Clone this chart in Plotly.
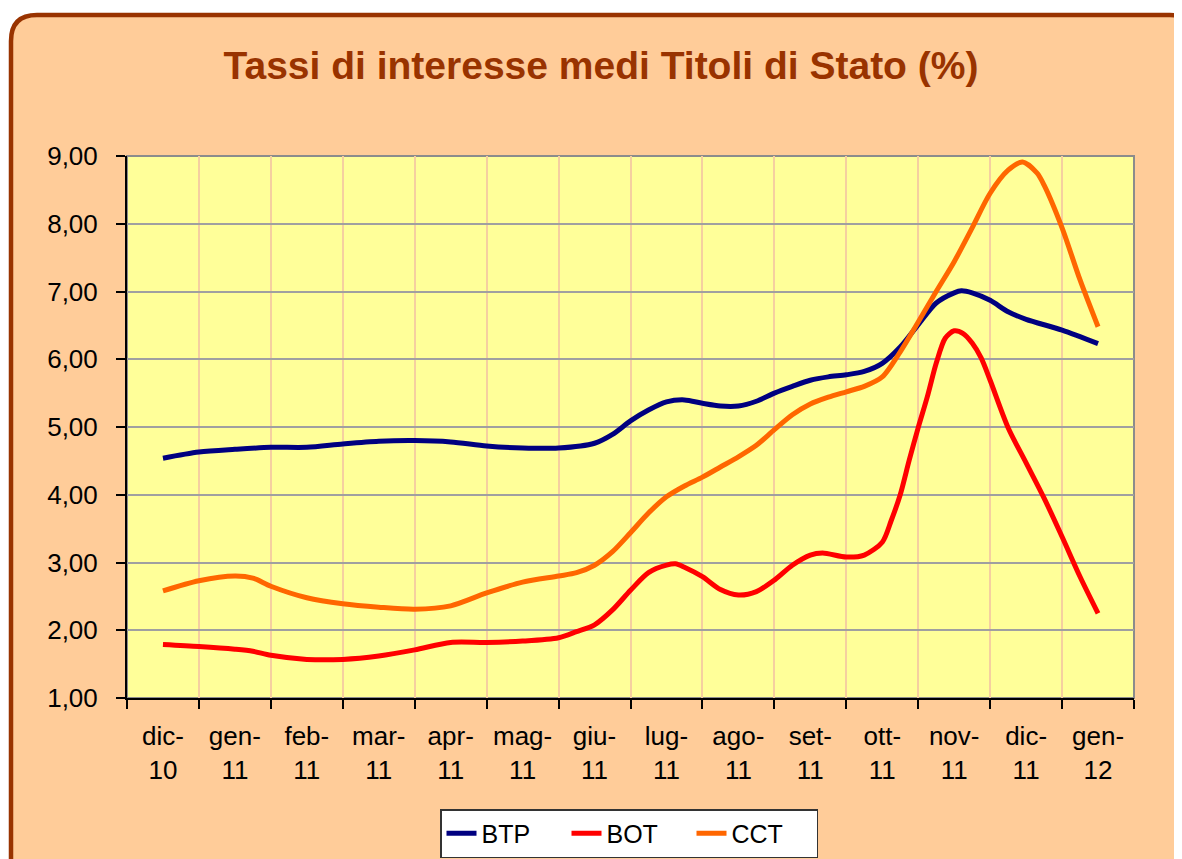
import plotly.graph_objects as go

# ---- data ----
months = ["dic-<br>10", "gen-<br>11", "feb-<br>11", "mar-<br>11", "apr-<br>11", "mag-<br>11",
          "giu-<br>11", "lug-<br>11", "ago-<br>11", "set-<br>11", "ott-<br>11", "nov-<br>11",
          "dic-<br>11", "gen-<br>12"]

btp_x = [0, 0.5, 1.0, 1.5, 2.0, 2.5, 3.0, 3.5, 4.0, 4.5, 5.0, 5.5, 6.0, 6.25, 6.5, 6.75, 7.0,
         7.25, 7.5, 7.75, 8.0, 8.25, 8.5, 8.75, 9.0, 9.25, 9.5, 9.75, 10.0, 10.25, 10.5, 10.75,
         11.0, 11.1, 11.25, 11.5, 11.75, 12.0, 12.5, 13.0]
btp_y = [4.54, 4.63, 4.67, 4.70, 4.70, 4.75, 4.79, 4.80, 4.78, 4.72, 4.69, 4.69, 4.76, 4.89,
         5.09, 5.25, 5.37, 5.40, 5.35, 5.31, 5.31, 5.38, 5.50, 5.60, 5.69, 5.74, 5.77, 5.82,
         5.94, 6.18, 6.51, 6.83, 6.98, 7.01, 6.98, 6.87, 6.70, 6.59, 6.43, 6.23]

bot_x = [0, 0.5, 1.0, 1.25, 1.5, 2.0, 2.5, 3.0, 3.5, 4.0, 4.5, 5.0, 5.5, 5.75, 6.0, 6.25, 6.5,
         6.75, 7.0, 7.125, 7.25, 7.5, 7.75, 8.0, 8.25, 8.5, 8.75, 9.0, 9.17, 9.5, 9.75, 10.0,
         10.125, 10.25, 10.375, 10.5, 10.625, 10.75, 10.875, 11.0, 11.125, 11.25, 11.375, 11.5,
         11.75, 12.0, 12.25, 12.5, 12.75, 13.0]
bot_y = [1.79, 1.76, 1.72, 1.69, 1.63, 1.57, 1.57, 1.62, 1.71, 1.82, 1.82, 1.84, 1.89, 1.98,
         2.08, 2.30, 2.59, 2.85, 2.96, 2.98, 2.93, 2.79, 2.60, 2.52, 2.57, 2.74, 2.96, 3.11,
         3.14, 3.08, 3.11, 3.30, 3.62, 4.00, 4.51, 4.99, 5.44, 5.94, 6.31, 6.42, 6.38, 6.24,
         6.02, 5.69, 4.99, 4.47, 3.95, 3.38, 2.79, 2.25]

cct_x = [0, 0.5, 1.0, 1.25, 1.5, 2.0, 2.5, 3.0, 3.5, 4.0, 4.5, 5.0, 5.5, 5.75, 6.0, 6.25, 6.5,
         6.75, 7.0, 7.25, 7.5, 7.75, 8.0, 8.25, 8.5, 8.75, 9.0, 9.25, 9.5, 9.75, 10.0, 10.25,
         10.5, 10.75, 11.0, 11.25, 11.5, 11.75, 11.95, 12.15, 12.25, 12.5, 12.75, 13.0]
cct_y = [2.58, 2.73, 2.80, 2.77, 2.65, 2.48, 2.39, 2.34, 2.31, 2.36, 2.55, 2.71, 2.80, 2.85,
         2.96, 3.16, 3.44, 3.73, 3.97, 4.13, 4.26, 4.41, 4.56, 4.73, 4.96, 5.18, 5.34, 5.44,
         5.52, 5.60, 5.74, 6.11, 6.55, 7.00, 7.44, 7.94, 8.45, 8.79, 8.91, 8.75, 8.57, 7.94,
         7.17, 6.48]

y_ticks = [1, 2, 3, 4, 5, 6, 7, 8, 9]

# ---- geometry (page pixels; the page body adds an 8px margin) ----
OFF = 8
W, H = 1182 - OFF, 859 - OFF
L, R, T, B = 127, 1134, 156, 698   # plot area in page pixels


def px(x):
    return (x - L) / (R - L)


def py(y):
    return 1 - (y - T) / (B - T)


FONT = "Liberation Sans, Arial, sans-serif"

fig = go.Figure()
fig.add_trace(go.Scatter(x=btp_x, y=btp_y, name="BTP", mode="lines",
                         line=dict(color="#000080", width=5, shape="spline", smoothing=0.8)))
fig.add_trace(go.Scatter(x=bot_x, y=bot_y, name="BOT", mode="lines",
                         line=dict(color="#FF0000", width=5, shape="spline", smoothing=0.8)))
fig.add_trace(go.Scatter(x=cct_x, y=cct_y, name="CCT", mode="lines",
                         line=dict(color="#FF6600", width=5, shape="spline", smoothing=0.8)))

# outer rounded frame
x0, y0, x1, y1, r = 11, 15, 1196, 880, 26
path = (f"M {px(x0)},{py(y0 + r)} Q {px(x0)},{py(y0)} {px(x0 + r)},{py(y0)} "
        f"L {px(x1 - r)},{py(y0)} Q {px(x1)},{py(y0)} {px(x1)},{py(y0 + r)} "
        f"L {px(x1)},{py(y1)} L {px(x0)},{py(y1)} Z")
fig.add_shape(type="path", path=path, xref="paper", yref="paper", layer="below",
              fillcolor="#FFCC99", line=dict(color="#993300", width=4.5))
fig.add_shape(type="rect", xref="paper", yref="paper", x0=0, y0=0, x1=1, y1=1, layer="below",
              fillcolor="#FFFF99", line=dict(color="#8C8C8C", width=2))

fig.update_layout(
    width=W, height=H,
    margin=dict(l=L - OFF, r=(1182 - R), t=T - OFF, b=(859 - B), autoexpand=False),
    paper_bgcolor="white",
    plot_bgcolor="#FFFF99",
    separators=",.",
    font=dict(family=FONT, size=26, color="black"),
    title=dict(text="<b>Tassi di interesse medi Titoli di Stato (%)</b>",
               x=px(601), xref="paper", xanchor="center",
               y=1 - (65 - OFF) / H, yref="container", yanchor="middle",
               font=dict(family=FONT, size=39, color="#993300")),
    showlegend=True,
    legend=dict(orientation="h", x=px(629), xanchor="center", y=py(809), yanchor="top",
                bgcolor="white", bordercolor="#333333", borderwidth=1.5,
                font=dict(family=FONT, size=25, color="black"),
                entrywidth=80, itemwidth=30, tracegroupgap=0),
)

fig.update_xaxes(
    range=[-0.5, 13.5], tickmode="array", tickvals=list(range(len(months))), ticktext=months,
    showgrid=False, ticks="", ticklabelstandoff=14, showline=True, linecolor="black",
    linewidth=2, zeroline=False, fixedrange=True,
    minor=dict(tick0=-0.5, dtick=1, showgrid=True, gridcolor="#F5CFA0", gridwidth=1.5,
               ticks="outside", ticklen=9, tickcolor="black", tickwidth=1.5),
)
fig.update_yaxes(
    range=[1, 9], tickmode="array", tickvals=y_ticks, tickformat=".2f",
    showgrid=True, gridcolor="#A0A0A0", gridwidth=1.5, ticks="outside", ticklen=9,
    tickcolor="black", tickwidth=1.5, ticklabelstandoff=13, showline=True,
    linecolor="black", linewidth=2, zeroline=False, fixedrange=True,
)

fig.write_html("out.html")
